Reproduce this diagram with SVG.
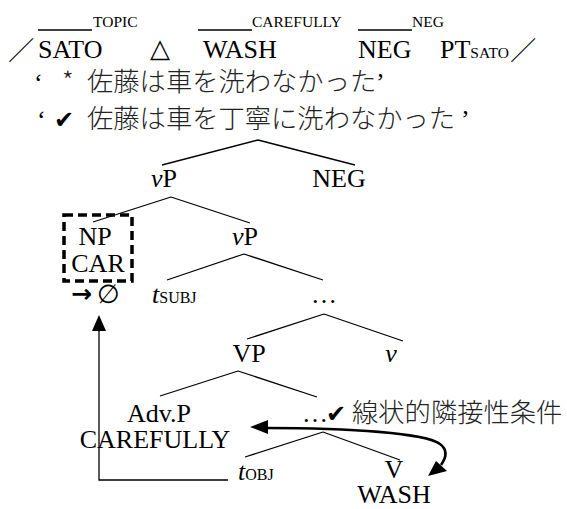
<svg xmlns="http://www.w3.org/2000/svg" width="567" height="509" viewBox="0 0 567 509">
<style>
.t{font-family:"Liberation Serif","Times New Roman",serif;font-size:26px;fill:#000}
.s{font-family:"Liberation Serif","Times New Roman",serif;font-size:15.5px;fill:#000}
.j{font-family:"Noto Sans CJK JP","Noto Sans",sans-serif;font-size:26.3px;font-weight:300;fill:#222}
.ck{font-family:"DejaVu Sans",sans-serif;font-size:24px;fill:#000}
.i{font-style:italic}
.ln{stroke:#000;stroke-width:1.3;fill:none}
</style>
<g id="gloss">
<line class="ln" x1="38" y1="30" x2="92" y2="30" stroke-width="1.6"/>
<line class="ln" x1="198" y1="30" x2="252" y2="30" stroke-width="1.6"/>
<line class="ln" x1="358" y1="30" x2="412" y2="30" stroke-width="1.6"/>
<text class="s" x="93" y="27">TOPIC</text>
<text class="s" x="252" y="27">CAREFULLY</text>
<text class="s" x="412" y="27">NEG</text>
<text class="j" x="8" y="60" style="fill:#000">／</text>
<text class="t" x="38" y="58">SATO</text>
<text x="150" y="57" style="font-family:'DejaVu Sans',sans-serif;font-size:26px;fill:#000">△</text>
<text class="t" x="203" y="58">WASH</text>
<text class="t" x="358" y="58">NEG</text>
<text class="t" x="440" y="58">PT<tspan style="font-size:15.5px">SATO</tspan></text>
<text class="j" x="510" y="60" style="fill:#000">／</text>
</g>
<g id="sentences">
<text class="t" x="34" y="91">‘</text>
<text class="j" x="62" y="91">*</text>
<text class="j" x="87" y="91">佐藤は車を洗わなかった</text>
<text class="t" x="376" y="91">’</text>
<text class="t" x="37" y="128">‘</text>
<text class="ck" x="54" y="128">✔</text>
<text class="j" x="87" y="128">佐藤は車を丁寧に洗わなかった</text>
<text class="t" x="461" y="128">’</text>
</g>
<g id="connectors">
<path class="ln" d="M258 140 L162 165 M258 140 L355 165"/>
<path class="ln" d="M171 197 L93 222 M171 197 L250 223"/>
<path class="ln" d="M244 254 L167 280 M244 254 L323 280"/>
<path class="ln" d="M324 314 L247 339 M324 314 L403 341"/>
<path class="ln" d="M238 371 L160 396 M238 371 L317 397"/>
<path class="ln" d="M323 432 L245 457 M323 432 L400 460"/>
<path class="ln" d="M228 480 L99 480 L99 330"/>
<polygon points="99,315 92,331 106,331" fill="#000"/>
<path d="M266 428 C350 428 425 433 440 444 C448 450 446 458 441 465" fill="none" stroke="#000" stroke-width="2.6"/>
<polygon points="250,427 268,420 268,434" fill="#000"/>
<polygon points="428,476 436,461 447,471" fill="#000"/>
</g>
<g id="n-root-vP"><text class="t" x="164" y="187" text-anchor="middle"><tspan class="i">v</tspan>P</text></g>
<g id="n-NEG"><text class="t" x="339" y="187" text-anchor="middle">NEG</text></g>
<g id="n-NP">
<rect x="64" y="215" width="68" height="66" fill="none" stroke="#000" stroke-width="3.5" stroke-dasharray="9 5"/>
<text class="t" x="95" y="245" text-anchor="middle">NP</text>
<text class="t" x="98" y="272" text-anchor="middle">CAR</text>
<text x="71" y="302" style="font-family:'DejaVu Sans',sans-serif;font-weight:bold;font-size:25px;fill:#000">→</text>
<text class="t" x="97" y="303">∅</text>
</g>
<g id="n-vP2"><text class="t" x="245" y="245" text-anchor="middle"><tspan class="i">v</tspan>P</text></g>
<g id="n-tsubj"><text class="t" x="152" y="303"><tspan class="i">t</tspan><tspan style="font-size:16px">SUBJ</tspan></text></g>
<g id="n-dots1"><text class="t" x="324" y="303" text-anchor="middle">…</text></g>
<g id="n-VP"><text class="t" x="249" y="362" text-anchor="middle">VP</text></g>
<g id="n-v"><text class="t i" x="391" y="362" text-anchor="middle">v</text></g>
<g id="n-AdvP">
<text class="t" x="159" y="422" text-anchor="middle">Adv.P</text>
<text class="t" x="155" y="448" text-anchor="middle">CAREFULLY</text>
</g>
<g id="n-dots2">
<text class="t" x="302" y="422">…</text>
<text class="ck" x="326" y="422">✔</text>
<text class="j" x="352" y="422">線状的隣接性条件</text>
</g>
<g id="n-tobj"><text class="t" x="238" y="480"><tspan class="i">t</tspan><tspan style="font-size:16px">OBJ</tspan></text></g>
<g id="n-V">
<text class="t" x="394" y="478" text-anchor="middle">V</text>
<text class="t" x="394" y="503" text-anchor="middle">WASH</text>
</g>
</svg>
